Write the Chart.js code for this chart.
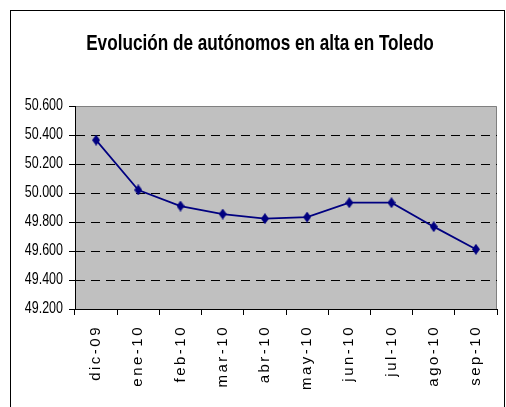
<!DOCTYPE html>
<html>
<head>
<meta charset="utf-8">
<script src="https://cdn.jsdelivr.net/npm/chart.js@4/dist/chart.umd.min.js"></script>
<style>
  html, body { margin: 0; padding: 0; background: #fff; overflow: hidden; }
  #wrap { position: relative; width: 506px; height: 407px; }
  #frame { position: absolute; left: 10px; top: 10px; width: 493px; height: 420px; border: 1px solid #000; }
  canvas { position: absolute; left: 0; top: 0; }
</style>
</head>
<body>
<div id="wrap">
  <div id="frame"></div>
  <canvas id="chart" width="506" height="407"></canvas>
</div>
<script>
const titleText = 'Evolución de autónomos en alta en Toledo';
const months = ['dic-09', 'ene-10', 'feb-10', 'mar-10', 'abr-10', 'may-10', 'jun-10', 'jul-10', 'ago-10', 'sep-10'];
const autonomos = [50365, 50021, 49910, 49855, 49823, 49834, 49933, 49933, 49768, 49612];
const yMin = 49200;
const yMax = 50600;
const yStep = 200;

const sans = "'Liberation Sans', Arial, sans-serif";
const squeeze = 0.78; // the sheet's text is narrow, like Arial Narrow

// thousands with a dot, like the spanish sheet
const fmt = (v) => {
  const s = String(Math.round(v));
  return s.slice(0, s.length - 3) + '.' + s.slice(-3);
};

// tall excel style diamond marker
function makeDiamond(w, h, color) {
  const c = document.createElement('canvas');
  c.width = w;
  c.height = h;
  const g = c.getContext('2d');
  g.fillStyle = color;
  g.beginPath();
  g.moveTo(w / 2, 0);
  g.lineTo(w, h / 2);
  g.lineTo(w / 2, h);
  g.lineTo(0, h / 2);
  g.closePath();
  g.fill();
  return c;
}
const diamond = makeDiamond(8, 11, '#000080');

// squeeze drawing horizontally around x = cx
function narrowDraw(ctx, cx, fn) {
  ctx.save();
  ctx.translate(cx, 0);
  ctx.scale(squeeze, 1);
  ctx.translate(-cx, 0);
  fn();
  ctx.restore();
}

const plotBg = {
  id: 'plotBg',
  beforeDraw(chart) {
    const { ctx, chartArea: a } = chart;
    ctx.save();
    ctx.fillStyle = '#c0c0c0';
    ctx.fillRect(a.left, a.top, a.right - a.left, a.bottom - a.top);
    ctx.strokeStyle = '#808080';
    ctx.lineWidth = 1;
    ctx.beginPath();
    ctx.moveTo(a.left, a.top + 0.5);
    ctx.lineTo(a.right - 0.5, a.top + 0.5);
    ctx.lineTo(a.right - 0.5, a.bottom);
    ctx.stroke();
    ctx.restore();

    // patch the text drawing once
    const xs = chart.scales.x;
    if (!xs._patched) {
      const orig = xs.drawLabels;
      xs.drawLabels = function (area) {
        this.ctx.save();
        this.ctx.letterSpacing = '2.5px';
        orig.call(this, area);
        this.ctx.restore();
      };
      xs._patched = true;
    }
    const ys = chart.scales.y;
    if (!ys._patched) {
      const orig = ys.drawLabels;
      ys._computeLabelArea = () => undefined; // no clipping, the text is squeezed anyway
      ys.drawLabels = function (area) {
        const anchor = this.right - this.options.grid.tickLength - this.options.ticks.padding;
        narrowDraw(this.ctx, anchor, () => orig.call(this, area));
      };
      ys._patched = true;
    }
    const tb = chart.titleBlock;
    if (tb && !tb._patched) {
      const orig = tb.draw;
      tb.draw = function () {
        narrowDraw(this.ctx, (this.left + this.right) / 2, () => orig.call(this));
      };
      tb._patched = true;
    }
  }
};

const ctx = document.getElementById('chart').getContext('2d');
new Chart(ctx, {
  type: 'line',
  data: {
    labels: months,
    datasets: [{
      data: autonomos,
      borderColor: '#000080',
      backgroundColor: '#000080',
      borderWidth: 1.75,
      pointStyle: diamond,
      pointRadius: 5,
      tension: 0,
    }],
  },
  options: {
    responsive: false,
    animation: false,
    layout: { padding: { left: 23, right: 9, top: 0, bottom: 0 } },
    plugins: {
      legend: { display: false },
      tooltip: { enabled: false },
      title: {
        display: true,
        text: titleText,
        color: '#000',
        font: { family: sans, size: 22, weight: 'bold' },
        padding: { top: 31, bottom: 48.6 },
      },
    },
    scales: {
      x: {
        offset: true,
        grid: {
          offset: true,
          drawOnChartArea: false,
          drawTicks: true,
          tickLength: 6,
          tickColor: '#000',
        },
        border: { color: '#000', width: 1 },
        ticks: {
          color: '#000',
          font: { family: sans, size: 15 },
          minRotation: 90,
          maxRotation: 90,
          padding: 10,
          autoSkip: false,
        },
        afterFit(scale) { scale.height = 98; },
      },
      y: {
        min: yMin,
        max: yMax,
        grid: {
          color: (c) => (c.tick && (c.tick.value === yMax || c.tick.value === yMin)) ? 'rgba(0,0,0,0)' : '#000',
          tickBorderDash: [],
          tickColor: '#000',
          tickLength: 6,
          lineWidth: 1,
        },
        border: { color: '#000', width: 1, dash: [9, 6] },
        ticks: {
          stepSize: yStep,
          color: '#000',
          padding: 6,
          font: { family: sans, size: 16 },
          callback: (v) => fmt(v),
        },
        afterFit(scale) { scale.width = 52; },
      },
    },
  },
  plugins: [plotBg],
});
</script>
</body>
</html>
